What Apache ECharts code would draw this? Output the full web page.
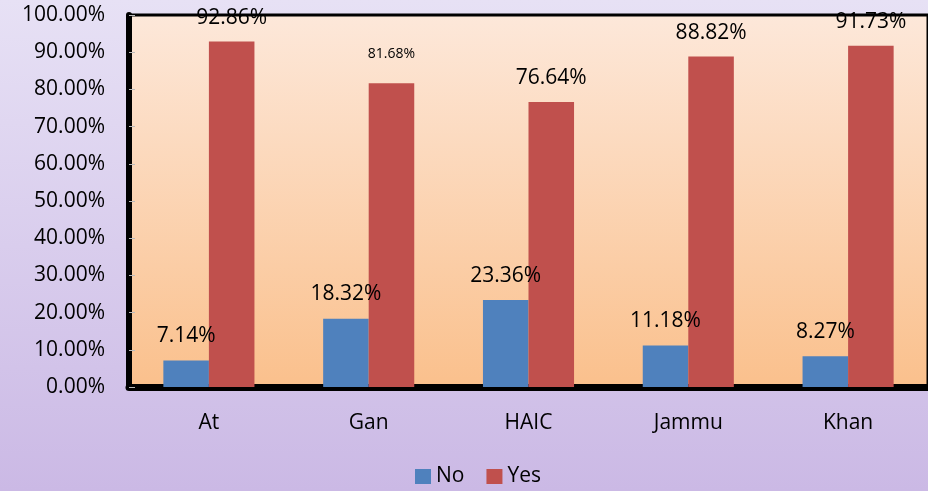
<!DOCTYPE html>
<html><head><meta charset="utf-8">
<script src="https://cdn.jsdelivr.net/npm/echarts@6/dist/echarts.min.js"></script>
<style>html,body{margin:0;padding:0;}#c{width:928px;height:491px;}</style>
</head><body><div id="c"></div>
<script>
const categories = ['At', 'Gan', 'HAIC', 'Jammu', 'Khan'];
const noValues = [7.14, 18.32, 23.36, 11.18, 8.27];
const yesValues = [92.86, 81.68, 76.64, 88.82, 91.73];
const yTicks = [0, 10, 20, 30, 40, 50, 60, 70, 80, 90, 100];

const FONT = 'Open Sans';
const chart = echarts.init(document.getElementById('c'));
chart.setOption({
  backgroundColor: new echarts.graphic.LinearGradient(0, 0, 0, 1, [
    {offset: 0, color: '#E7E1F5'}, {offset: 1, color: '#CBB9E5'}
  ]),
  textStyle: {fontFamily: FONT},
  legend: {
    data: ['No', 'Yes'], bottom: -1, left: 410,
    icon: 'rect', itemWidth: 16, itemHeight: 15, itemGap: 22,
    textStyle: {fontSize: 21, color: '#000', fontFamily: FONT}
  },
  grid: {
    left: 129, right: 0, top: 15, bottom: 104,
    show: true, borderColor: '#000', borderWidth: 3,
    backgroundColor: new echarts.graphic.LinearGradient(0, 0, 0, 1, [
      {offset: 0, color: '#FDE8DA'}, {offset: 1, color: '#FAC08C'}
    ])
  },
  xAxis: {
    type: 'category', data: categories,
    axisLine: {lineStyle: {color: '#000', width: 7}},
    axisTick: {show: false},
    axisLabel: {fontSize: 21, color: '#000', margin: 26, fontFamily: FONT}
  },
  yAxis: {
    type: 'value', min: 0, max: 100, interval: 10,
    axisLine: {show: true, lineStyle: {color: '#000', width: 6}},
    axisTick: {show: true, inside: true, length: 6, lineStyle: {color: '#bbb'}},
    splitLine: {show: false},
    axisLabel: {fontSize: 21, color: '#000', margin: 24, fontFamily: FONT,
      formatter: v => yTicks.includes(v) ? v.toFixed(2) + '%' : ''}
  },
  series: [
    {
      name: 'No', type: 'bar', data: noValues, barGap: '0%', barCategoryGap: '43%',
      itemStyle: {color: '#4F81BD'},
      label: {show: true, position: 'top', distance: 14, fontSize: 21, color: '#000',
        fontFamily: FONT, formatter: p => p.value.toFixed(2) + '%'}
    },
    {
      name: 'Yes', type: 'bar',
      data: yesValues.map((v, i) => i === 1 ? {value: v, label: {fontSize: 14, distance: 22}} : v),
      itemStyle: {color: '#C0504D'},
      label: {show: true, position: 'top', distance: 13, fontSize: 21, color: '#000',
        fontFamily: FONT, formatter: p => p.value.toFixed(2) + '%'}
    }
  ]
});
</script></body></html>
